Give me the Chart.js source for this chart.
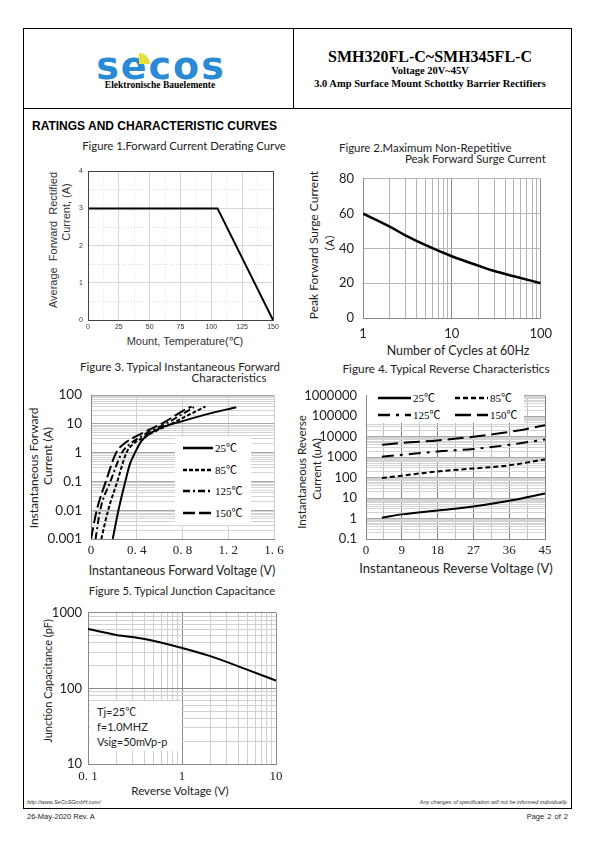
<!DOCTYPE html>
<html>
<head>
<meta charset="utf-8">
<script src="https://cdn.jsdelivr.net/npm/chart.js@4.4.1/dist/chart.umd.min.js"></script>
<style>
  html, body { margin: 0; padding: 0; background: #fff; }
  #page { position: relative; width: 595px; height: 842px; overflow: hidden;
          font-family: "Liberation Sans", Arial, sans-serif; color: #000; }
  .a { position: absolute; white-space: nowrap; line-height: 1; }
  .c { position: absolute; white-space: nowrap; line-height: 1; transform: translate(-50%, -50%); }
  .v { position: absolute; white-space: nowrap; line-height: 1; transform: translate(-50%, -50%) rotate(-90deg); }
  .cal { font-family: Lato, "Open Sans", "Noto Sans CJK SC", sans-serif; color: #222; }
  .ser { font-family: "Liberation Serif", "Noto Sans CJK SC", serif; }
  .tms { font-family: "Liberation Serif", "Times New Roman", serif; font-weight: bold; }
  .ln { position: absolute; background: #000; }
  canvas { position: absolute; }
  .box { position: absolute; background: #fff; z-index: 2; }
  .box svg { position: absolute; overflow: visible; }
  .box span { position: absolute; white-space: nowrap; line-height: 1; transform: translateY(-50%); }
</style>
</head>
<body>
<div id="page">
  <!-- page frame -->
  <div class="ln" style="left:23px;top:28px;width:548px;height:1px"></div>
  <div class="ln" style="left:23px;top:108px;width:548px;height:1px"></div>
  <div class="ln" style="left:23px;top:808px;width:549px;height:1px"></div>
  <div class="ln" style="left:23px;top:28px;width:1px;height:781px"></div>
  <div class="ln" style="left:571px;top:28px;width:1px;height:781px"></div>
  <div class="ln" style="left:293px;top:28px;width:1px;height:80px"></div>

  <!-- header -->
  <div class="c" style="left:161px;top:66px;font-family:'DejaVu Sans',sans-serif;font-weight:bold;font-size:38px;color:#2a8bd4;letter-spacing:2px">secos</div>
  <div class="a" style="left:139px;top:53px;width:11px;height:11px;background:#e2e23a;border-radius:0 11px 0 0"></div>
  <div class="c tms" style="left:160px;top:86px;font-size:9.5px">Elektronische Bauelemente</div>
  <div class="c tms" style="left:430px;top:57px;font-size:16px">SMH320FL-C~SMH345FL-C</div>
  <div class="c tms" style="left:430px;top:71px;font-size:10.5px">Voltage 20V~45V</div>
  <div class="c tms" style="left:430px;top:84px;font-size:10.5px">3.0 Amp Surface Mount Schottky Barrier Rectifiers</div>

  <div class="a" style="left:32px;top:120px;font-size:12px;font-weight:bold">RATINGS AND CHARACTERISTIC CURVES</div>

  <!-- figure 1 texts -->
  <div class="c cal" style="left:184px;top:146px;font-size:11.3px">Figure 1.Forward Current Derating Curve</div>
  <div class="v" style="left:53px;top:240px;font-size:11px;color:#333">Average&nbsp; Forward&nbsp; Rectified</div>
  <div class="v" style="left:66px;top:212px;font-size:11px;color:#333">Current, (A)</div>
  <div class="c" style="left:185px;top:341px;font-size:11px;color:#333">Mount, Temperature(℃)</div>

  <!-- figure 2 texts -->
  <div class="a cal" style="left:339px;top:142px;font-size:11.4px">Figure 2.Maximum Non-Repetitive</div>
  <div class="a cal" style="left:405px;top:153px;font-size:11.4px">Peak Forward Surge Current</div>
  <div class="v cal" style="left:314px;top:245px;font-size:12px">Peak Forward Surge Current</div>
  <div class="v cal" style="left:329px;top:243px;font-size:11px">（A）</div>
  <div class="c cal" style="left:458px;top:351px;font-size:12.4px">Number of Cycles at 60Hz</div>

  <!-- figure 3 texts -->
  <div class="c cal" style="left:180px;top:367px;font-size:11.5px">Figure 3. Typical Instantaneous Forward</div>
  <div class="c cal" style="left:229px;top:378px;font-size:11.5px">Characteristics</div>
  <div class="v cal" style="left:34px;top:468px;font-size:12px">Instantaneous Forward</div>
  <div class="v cal" style="left:48px;top:456px;font-size:12px">Current (A)</div>
  <div class="c cal" style="left:182px;top:571px;font-size:12.4px">Instantaneous Forward Voltage (V)</div>

  <!-- figure 4 texts -->
  <div class="c cal" style="left:446px;top:369px;font-size:11.8px">Figure 4. Typical Reverse Characteristics</div>
  <div class="v cal" style="left:302px;top:472px;font-size:11.5px">Instantaneous Reverse</div>
  <div class="v cal" style="left:317px;top:469px;font-size:11.5px">Current (uA)</div>
  <div class="c cal" style="left:456px;top:568px;font-size:13px">Instantaneous Reverse Voltage (V)</div>

  <!-- figure 5 texts -->
  <div class="c cal" style="left:182px;top:591px;font-size:11.2px">Figure 5. Typical Junction Capacitance</div>
  <div class="v cal" style="left:47px;top:681px;font-size:11px">Junction Capacitance (pF)</div>
  <div class="c cal" style="left:180px;top:791px;font-size:11.5px">Reverse Voltage (V)</div>

  <!-- footer -->
  <div class="a" style="left:27px;top:800px;font-size:5.5px;font-style:italic;color:#333">http://www.SeCoSGmbH.com/</div>
  <div class="a" style="right:27px;top:800px;font-size:5.5px;font-style:italic;color:#333">Any changes of specification will not be informed individually.</div>
  <div class="a" style="left:27px;top:813px;font-size:7.5px;color:#222">26-May-2020 Rev. A</div>
  <div class="a" style="right:27px;top:813px;font-size:7.5px;color:#222;word-spacing:1px">Page 2 of 2</div>

  <canvas id="fig1"></canvas>
  <canvas id="fig2"></canvas>
  <canvas id="fig3"></canvas>
  <canvas id="fig4"></canvas>
  <canvas id="fig5"></canvas>

  <!-- legends / notes -->
  <div class="box" id="leg3" style="left:175px;top:437px;width:76px;height:88px"></div>
  <div class="box" id="leg4" style="left:367px;top:390px;width:157px;height:33px"></div>
  <div class="box cal" style="left:90px;top:701px;width:92px;height:50px">
    <span style="left:7px;top:10px;font-size:11px">Tj=25℃</span>
    <span style="left:7px;top:25px;font-size:11px">f=1.0MHZ</span>
    <span style="left:7px;top:40px;font-size:11px">Vsig=50mVp-p</span>
  </div>
</div>

<script>
// ---- chart data ----
const deratingTemp = [0, 105, 150];
const deratingCurrent = [3, 3, 0];

const surgeCycles = [1, 2, 3, 5, 10, 20, 30, 50, 100];
const surgeCurrent = [60, 52.5, 47.5, 42, 35.5, 30, 27, 24, 20];

const fwdV25 = [0.19, 0.24, 0.30, 0.34, 0.385, 0.44, 0.5, 0.6, 0.8, 1.0, 1.27];
const fwdI25 = [0.001, 0.01, 0.1, 0.4, 1, 2.5, 4.2, 7, 12.5, 21, 38];
const fwdV85 = [0.09, 0.15, 0.23, 0.31, 0.37, 0.46, 0.56, 0.7, 0.85, 1.0];
const fwdI85 = [0.001, 0.01, 0.1, 1, 2, 3.4, 5.5, 10, 20, 40];
const fwdV125 = [0.04, 0.08, 0.17, 0.27, 0.34, 0.43, 0.52, 0.67, 0.8, 0.9];
const fwdI125 = [0.001, 0.01, 0.1, 1, 2, 3.5, 5.5, 11, 22, 38];
const fwdV150 = [0.0, 0.05, 0.13, 0.22, 0.3, 0.4, 0.5, 0.65, 0.8, 0.88];
const fwdI150 = [0.001, 0.01, 0.1, 1, 2.2, 3.8, 6, 12, 28, 40];

const revVoltage = [4, 9, 18, 27, 36, 45];
const rev25 = [1.1, 1.6, 2.5, 3.9, 7.4, 17];
const rev85 = [95, 125, 200, 280, 400, 780];
const rev125 = [1050, 1300, 1900, 2500, 4000, 7300];
const rev150 = [4000, 5000, 6600, 10000, 17000, 36000];

const capVoltage = [0.1, 0.2, 0.4, 1, 2, 5, 10];
const capPF = [610, 510, 450, 343, 267, 176, 127];

const tempLabels = ['25℃', '85℃', '125℃', '150℃'];
const fwdVoltTicks = ['0', '0. 4', '0. 8', '1. 2', '1. 6'];
const revVoltTicks = ['0', '9', '18', '27', '36', '45'];
const capVoltTicks = { 0.1: '0. 1', 1: '1', 10: '10' };

// line styles per temperature (fig 3 / fig 4)
const dash3 = [[], [4, 2], [7, 3, 2, 3], [12, 4]];
const dash4 = [[], [5, 3], [12, 6, 3, 6], [16, 6]];

const SANS = 'Lato';
const SERIF = 'Liberation Serif';

// ---- helpers ----
const pts = (xs, ys) => xs.map((x, i) => ({ x, y: ys[i] }));

function isDecade(v) {
  const l = Math.log10(v);
  return Math.abs(l - Math.round(l)) < 1e-6;
}

function decadeSteps(min, max) {
  const out = [];
  for (let e = Math.floor(Math.log10(min)); e <= Math.ceil(Math.log10(max)); e++) {
    for (let s = 1; s < 10; s++) {
      const v = +(s * Math.pow(10, e)).toPrecision(6);
      if (v >= min * 0.999 && v <= max * 1.001) out.push(v);
    }
  }
  return out;
}

function fmtDecade(v) {
  const e = Math.round(Math.log10(v));
  return e < 0 ? v.toFixed(-e) : String(Math.round(v));
}

function curve(xs, ys, dash, width, tension) {
  return {
    data: pts(xs, ys),
    borderColor: '#000',
    borderWidth: width || 2,
    borderDash: dash || [],
    pointRadius: 0,
    fill: false,
    cubicInterpolationMode: tension === 0 ? 'default' : 'monotone',
    tension: 0,
  };
}

function logAxis(min, max, major, minor, tickOpts) {
  return {
    type: 'logarithmic', min, max,
    afterBuildTicks: s => { s.ticks = decadeSteps(min, max).map(v => ({ value: v })); },
    ticks: Object.assign({ autoSkip: false, maxRotation: 0, padding: 8, color: '#222',
      font: { family: SANS, size: 13 },
      callback: v => isDecade(v) ? fmtDecade(v) : '' }, tickOpts || {}),
    grid: { drawTicks: false, color: c => (c.tick && isDecade(c.tick.value)) ? major : minor },
    border: { color: '#888' },
  };
}

// stroke the whole plot rectangle
const plotFrame = {
  id: 'plotFrame',
  afterDraw(chart, args, opts) {
    if (!opts.color) return;
    const { ctx, chartArea: a } = chart;
    ctx.save();
    ctx.strokeStyle = opts.color;
    ctx.lineWidth = 1;
    ctx.strokeRect(Math.round(a.left) + 0.5, Math.round(a.top) + 0.5,
      Math.round(a.right - a.left), Math.round(a.bottom - a.top));
    ctx.restore();
  },
};

// place a chart so its plot area lands on the given page rectangle
function plotChart(id, area, m, datasets, scales, frameColor) {
  const cv = document.getElementById(id);
  const left = area.l - m.y, top = area.t - m.top;
  const w = area.r + m.right - left, h = area.b + m.x - top;
  cv.style.left = left + 'px';
  cv.style.top = top + 'px';
  cv.width = w; cv.height = h;
  cv.style.width = w + 'px'; cv.style.height = h + 'px';
  scales.x.afterFit = s => { s.height = m.x; };
  scales.y.afterFit = s => { s.width = m.y; };
  return new Chart(cv, {
    type: 'line',
    data: { datasets },
    options: {
      responsive: false,
      animation: false,
      devicePixelRatio: 1,
      layout: { padding: { top: m.top, right: m.right, left: 0, bottom: 0 }, autoPadding: false },
      plugins: { legend: { display: false }, tooltip: { enabled: false }, plotFrame: { color: frameColor } },
      scales,
    },
    plugins: [plotFrame],
  });
}

function legendRow(box, x, y, len, dash, label, size) {
  const ns = 'http://www.w3.org/2000/svg';
  const svg = document.createElementNS(ns, 'svg');
  svg.setAttribute('width', len); svg.setAttribute('height', 4);
  svg.style.left = x + 'px'; svg.style.top = (y - 2) + 'px';
  const l = document.createElementNS(ns, 'line');
  l.setAttribute('x1', 0); l.setAttribute('x2', len);
  l.setAttribute('y1', 2); l.setAttribute('y2', 2);
  l.setAttribute('stroke', '#000'); l.setAttribute('stroke-width', 2.5);
  if (dash.length) l.setAttribute('stroke-dasharray', dash.join(' '));
  svg.appendChild(l);
  box.appendChild(svg);
  const t = document.createElement('span');
  t.className = 'ser';
  t.style.left = (x + len + 2) + 'px'; t.style.top = y + 'px';
  t.style.fontSize = size + 'px';
  t.textContent = label;
  box.appendChild(t);
}

function draw() {
  // Figure 1 — derating
  plotChart('fig1', { l: 88, t: 170, r: 273, b: 320 }, { y: 30, x: 16, top: 8, right: 12 },
    [curve(deratingTemp, deratingCurrent, [], 2, 0)],
    {
      x: { type: 'linear', min: 0, max: 150,
        ticks: { stepSize: 12.5, autoSkip: false, maxRotation: 0, padding: 3, color: '#333',
          font: { family: 'Liberation Sans', size: 7 },
          callback: v => (v % 25 === 0 ? String(v) : '') },
        grid: { drawTicks: false, color: c => (c.tick && c.tick.value % 25 === 0) ? '#d6d6d6' : '#e4e4e4' },
        border: { color: '#555', dash: c => (c.tick && c.tick.value % 25 !== 0) ? [1, 2] : [] } },
      y: { type: 'linear', min: 0, max: 4,
        ticks: { stepSize: 0.5, autoSkip: false, padding: 5, color: '#333',
          font: { family: 'Liberation Sans', size: 7 },
          callback: v => (Number.isInteger(v) ? String(v) : '') },
        grid: { drawTicks: false, color: c => (c.tick && Number.isInteger(c.tick.value)) ? '#d6d6d6' : '#dcdcdc' },
        border: { color: '#555', dash: c => (c.tick && !Number.isInteger(c.tick.value)) ? [1, 2] : [] } },
    }, '#444');

  // Figure 2 — surge current
  plotChart('fig2', { l: 363, t: 172, r: 546, b: 318 }, { y: 34, x: 26, top: 10, right: 14 },
    [curve(surgeCycles, surgeCurrent, [], 2.5)],
    {
      x: logAxis(1, 100, '#8c8c8c', '#b4b4b4', { padding: 8 }),
      y: { type: 'linear', min: 0, max: 80,
        ticks: { stepSize: 20, padding: 9, color: '#222', font: { family: SANS, size: 13 } },
        grid: { drawTicks: false, color: '#b4b4b4' },
        border: { color: '#8c8c8c' } },
    });

  // Figure 3 — forward characteristics
  const fwd = [[fwdV25, fwdI25], [fwdV85, fwdI85], [fwdV125, fwdI125], [fwdV150, fwdI150]];
  plotChart('fig3', { l: 91, t: 388, r: 274, b: 539 }, { y: 66, x: 22, top: 10, right: 18 },
    fwd.map((s, i) => curve(s[0], s[1], dash3[i], 2)),
    {
      x: { type: 'linear', min: 0, max: 1.6,
        ticks: { stepSize: 0.4, autoSkip: false, maxRotation: 0, padding: 4, color: '#222',
          font: { family: SERIF, size: 13 },
          callback: v => fwdVoltTicks[Math.round(v / 0.4)] },
        grid: { drawTicks: false, color: '#d0d0d0' },
        border: { color: '#888' } },
      y: logAxis(0.001, 100, '#a8a8a8', '#d4d4d4', { padding: 9, font: { family: SANS, size: 13.5 } }),
    });

  // Figure 4 — reverse characteristics
  const rev = [rev25, rev85, rev125, rev150];
  plotChart('fig4', { l: 366, t: 389, r: 545, b: 539 }, { y: 66, x: 22, top: 10, right: 12 },
    rev.map((s, i) => curve(revVoltage, s, dash4[i], 2)),
    {
      x: { type: 'linear', min: 0, max: 45,
        ticks: { stepSize: 4.5, autoSkip: false, maxRotation: 0, padding: 4, color: '#222',
          font: { family: SERIF, size: 13 },
          callback: v => { const k = v / 9; return Math.abs(k - Math.round(k)) < 1e-6 ? revVoltTicks[Math.round(k)] : ''; } },
        grid: { drawTicks: false, color: c => {
          if (!c.tick) return '#bbb';
          const k = c.tick.value / 9;
          return Math.abs(k - Math.round(k)) < 1e-6 ? '#808080' : '#c0c0c0'; } },
        border: { color: '#888' } },
      y: logAxis(0.1, 1000000, '#a8a8a8', '#d4d4d4', { padding: 9, font: { family: SANS, size: 13 } }),
    });

  // Figure 5 — junction capacitance
  plotChart('fig5', { l: 88, t: 609, r: 276, b: 764 }, { y: 60, x: 20, top: 10, right: 12 },
    [curve(capVoltage, capPF, [], 2)],
    {
      x: logAxis(0.1, 10, '#8c8c8c', '#d0d0d0', { padding: 5, font: { family: SERIF, size: 13 },
        callback: v => capVoltTicks[v] || '' }),
      y: logAxis(10, 1000, '#8c8c8c', '#d0d0d0', { padding: 6 }),
    });

  // legends
  const l3 = document.getElementById('leg3');
  tempLabels.forEach((t, i) => legendRow(l3, 8, 11 + i * 21.7, 30, dash3[i], t, 11));
  const l4 = document.getElementById('leg4');
  tempLabels.forEach((t, i) => legendRow(l4, 11 + (i % 2) * 77, 8 + Math.floor(i / 2) * 17, 33, dash4[i], t, 11));
}

(document.fonts ? document.fonts.ready : Promise.resolve()).then(draw);
</script>
</body>
</html>
